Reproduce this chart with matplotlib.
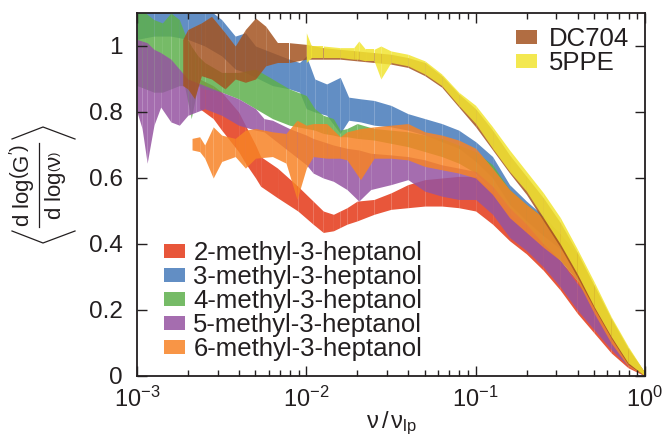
import numpy as np
import matplotlib
matplotlib.use("Agg")
import matplotlib.pyplot as plt
from matplotlib.patches import Patch
from matplotlib.lines import Line2D
from matplotlib.ticker import LogLocator, FixedLocator, FixedFormatter, NullLocator

plt.rcParams['font.family'] = ['Liberation Sans', 'DejaVu Sans']
plt.rcParams['mathtext.fontset'] = 'custom'
plt.rcParams['mathtext.rm'] = 'Liberation Sans'
plt.rcParams['mathtext.it'] = 'Liberation Sans'
plt.rcParams['mathtext.sf'] = 'Liberation Sans'
TXT = '#231f20'

# ---------------- data (log10 of nu/nu_lp, band lower / upper) ----------------
red_lx = [-2.63, -2.55, -2.5, -2.4, -2.36, -2.3, -2.27, -2.17, -2.05, -1.96,
          -1.9, -1.84, -1.8, -1.76, -1.7, -1.6, -1.5, -1.4, -1.3, -1.2,
          -1.1, -1.0, -0.9, -0.8, -0.7, -0.6, -0.5, -0.4, -0.3, -0.2, -0.1, 0.0]
red_hi = [0.90, 0.88, 0.86, 0.80, 0.76, 0.70, 0.665, 0.63, 0.575, 0.53,
          0.50, 0.49, 0.50, 0.51, 0.53, 0.535, 0.555, 0.58, 0.595, 0.60,
          0.605, 0.605, 0.56, 0.495, 0.45, 0.40, 0.35, 0.29, 0.23, 0.15, 0.075, 0.01]
red_lo = [0.81, 0.78, 0.745, 0.68, 0.645, 0.60, 0.575, 0.54, 0.50, 0.46,
          0.435, 0.44, 0.45, 0.46, 0.47, 0.49, 0.505, 0.51, 0.515, 0.515,
          0.51, 0.50, 0.46, 0.41, 0.37, 0.32, 0.26, 0.19, 0.13, 0.07, 0.025, 0.0]

blue_lx = [-3.0, -2.9, -2.8, -2.7, -2.6, -2.5, -2.42, -2.36, -2.3, -2.2,
           -2.1, -2.04, -2.0, -1.95, -1.88, -1.8, -1.75, -1.68, -1.6, -1.5,
           -1.4, -1.3, -1.2, -1.1, -1.0, -0.9, -0.8, -0.7, -0.6, -0.5,
           -0.4, -0.3, -0.2, -0.1, 0.0]
blue_hi = [1.15, 1.15, 1.12, 1.13, 1.12, 1.08, 1.03, 1.04, 1.0, 0.98,
           0.96, 0.95, 0.97, 0.90, 0.885, 0.905, 0.845, 0.84, 0.835, 0.82,
           0.795, 0.78, 0.765, 0.745, 0.71, 0.665, 0.58, 0.53, 0.485, 0.43,
           0.365, 0.265, 0.165, 0.075, 0.01]
blue_lo = [1.02, 1.03, 1.03, 1.02, 1.0, 0.97, 0.93, 0.92, 0.905, 0.88,
           0.87, 0.86, 0.81, 0.80, 0.79, 0.735, 0.775, 0.77, 0.76, 0.755,
           0.745, 0.73, 0.71, 0.69, 0.65, 0.60, 0.52, 0.47, 0.425, 0.385,
           0.325, 0.225, 0.125, 0.045, 0.0]

green_lx = [-3.0, -2.95, -2.9, -2.85, -2.8, -2.75, -2.72, -2.68, -2.64, -2.6,
            -2.5, -2.4, -2.3, -2.2, -2.1, -2.0, -1.95, -1.9, -1.84, -1.8,
            -1.76, -1.7, -1.6, -1.5, -1.4, -1.3, -1.2, -1.1, -1.0, -0.9,
            -0.8, -0.7, -0.6, -0.5, -0.4, -0.3, -0.2, -0.1, 0.0]
green_hi = [1.12, 1.10, 1.08, 1.07, 1.10, 1.08, 1.04, 1.0, 0.97, 0.95,
            0.92, 0.92, 0.93, 0.90, 0.87, 0.85, 0.81, 0.79, 0.78, 0.745,
            0.75, 0.765, 0.75, 0.745, 0.74, 0.73, 0.72, 0.70, 0.68, 0.64,
            0.565, 0.52, 0.48, 0.43, 0.37, 0.27, 0.17, 0.08, 0.01]
green_lo = [0.88, 0.87, 0.86, 0.86, 0.87, 0.88, 0.88, 0.78, 0.88, 0.87,
            0.86, 0.84, 0.81, 0.78, 0.76, 0.75, 0.745, 0.735, 0.73, 0.725,
            0.725, 0.72, 0.715, 0.705, 0.695, 0.68, 0.665, 0.645, 0.615, 0.56,
            0.49, 0.44, 0.395, 0.35, 0.29, 0.195, 0.105, 0.035, 0.0]

purple_lx = [-3.0, -2.97, -2.94, -2.9, -2.86, -2.8, -2.75, -2.7, -2.65, -2.6,
             -2.5, -2.4, -2.3, -2.25, -2.2, -2.1, -2.0, -1.96, -1.9, -1.84,
             -1.76, -1.69, -1.62, -1.5, -1.4, -1.3, -1.2, -1.1, -1.0, -0.9,
             -0.8, -0.7, -0.6, -0.5, -0.4, -0.3, -0.2, -0.1, 0.0]
purple_hi = [1.02, 1.015, 1.01, 0.99, 0.98, 0.96, 0.93, 0.90, 0.89, 0.88,
             0.86, 0.84, 0.81, 0.78, 0.775, 0.75, 0.73, 0.72, 0.71, 0.70,
             0.69, 0.685, 0.675, 0.67, 0.665, 0.655, 0.64, 0.63, 0.62, 0.575,
             0.51, 0.46, 0.40, 0.35, 0.28, 0.22, 0.14, 0.06, 0.01]
purple_lo = [0.80, 0.75, 0.645, 0.76, 0.815, 0.77, 0.76, 0.79, 0.80, 0.81,
             0.79, 0.76, 0.745, 0.74, 0.72, 0.68, 0.64, 0.615, 0.60, 0.59,
             0.565, 0.53, 0.565, 0.58, 0.595, 0.56, 0.545, 0.535, 0.535, 0.49,
             0.42, 0.38, 0.33, 0.27, 0.20, 0.14, 0.08, 0.03, 0.0]

orange_lx = [-2.675, -2.63, -2.6, -2.55, -2.5, -2.42, -2.36, -2.3, -2.2, -2.12,
             -2.055, -2.0, -1.96, -1.88, -1.8, -1.76, -1.68, -1.6, -1.5, -1.4,
             -1.3, -1.2, -1.1, -1.0, -0.9, -0.8, -0.7, -0.6, -0.5, -0.4,
             -0.3, -0.2, -0.1, 0.0]
orange_hi = [0.72, 0.725, 0.70, 0.755, 0.73, 0.72, 0.745, 0.75, 0.74, 0.735,
             0.775, 0.76, 0.765, 0.765, 0.725, 0.74, 0.75, 0.755, 0.76, 0.765,
             0.74, 0.73, 0.715, 0.69, 0.63, 0.565, 0.52, 0.48, 0.43, 0.37,
             0.27, 0.17, 0.08, 0.01]
orange_lo = [0.685, 0.68, 0.66, 0.60, 0.65, 0.665, 0.63, 0.66, 0.665, 0.645,
             0.535, 0.63, 0.665, 0.66, 0.66, 0.655, 0.595, 0.66, 0.66, 0.655,
             0.635, 0.625, 0.615, 0.60, 0.55, 0.48, 0.435, 0.39, 0.35, 0.29,
             0.19, 0.10, 0.03, 0.0]

brown_lx = [-2.73, -2.70, -2.66, -2.62, -2.56, -2.48, -2.42, -2.36, -2.30, -2.24,
            -2.17, -2.10, -2.0, -1.9, -1.8, -1.7, -1.6, -1.5, -1.4, -1.3,
            -1.2, -1.1, -1.0, -0.9, -0.8, -0.7, -0.6, -0.5, -0.4, -0.3,
            -0.2, -0.1, 0.0]
brown_hi = [1.02, 1.05, 1.06, 1.07, 1.09, 1.04, 1.0, 1.05, 1.085, 1.06,
            1.01, 1.01, 1.005, 0.995, 0.99, 0.985, 0.98, 0.975, 0.965, 0.95,
            0.91, 0.855, 0.81, 0.745, 0.67, 0.605, 0.54, 0.465, 0.375, 0.275,
            0.175, 0.085, 0.01]
brown_lo = [0.88, 0.87, 0.84, 0.91, 0.90, 0.87, 0.90, 0.89, 0.90, 0.94,
            0.95, 0.95, 0.96, 0.96, 0.96, 0.955, 0.95, 0.945, 0.935, 0.91,
            0.875, 0.815, 0.755, 0.685, 0.615, 0.55, 0.47, 0.39, 0.30, 0.205,
            0.115, 0.035, 0.0]

yellow_lx = [-2.0, -1.97, -1.9, -1.8, -1.72, -1.69, -1.65, -1.6, -1.56, -1.5,
             -1.4, -1.3, -1.2, -1.1, -1.0, -0.9, -0.8, -0.7, -0.6, -0.5,
             -0.4, -0.3, -0.2, -0.1, 0.0]
yellow_hi = [1.04, 1.0, 1.0, 0.995, 0.995, 1.015, 0.99, 0.99, 1.0, 0.985,
             0.975, 0.955, 0.915, 0.86, 0.82, 0.755, 0.685, 0.62, 0.555, 0.48,
             0.385, 0.285, 0.18, 0.09, 0.01]
yellow_lo = [0.95, 0.965, 0.965, 0.965, 0.96, 0.96, 0.955, 0.955, 0.90, 0.95,
             0.94, 0.915, 0.88, 0.82, 0.765, 0.69, 0.62, 0.56, 0.48, 0.40,
             0.31, 0.21, 0.12, 0.04, 0.0]

alcohol_labels = ['2-methyl-3-heptanol', '3-methyl-3-heptanol', '4-methyl-3-heptanol',
                  '5-methyl-3-heptanol', '6-methyl-3-heptanol']
ref_labels = ['DC704', '5PPE']
y_ticks = [0, 0.2, 0.4, 0.6, 0.8, 1.0]
y_ticklabels = ['0', '0.2', '0.4', '0.6', '0.8', '1']

# ---------------- styling ----------------
ALPHA = 0.85
colors = {
    'red': '#e43817', 'blue': '#467aba', 'green': '#5eb04c', 'purple': '#9554a1',
    'orange': '#f78325', 'brown': '#a45421', 'yellow': '#f1e531',
}

W, H = 662, 437
fig = plt.figure(figsize=(W / 100, H / 100), dpi=100)
ax = fig.add_axes([137 / W, 61 / H, 508 / W, 363 / H])

series = [
    ('red', red_lx, red_lo, red_hi),
    ('blue', blue_lx, blue_lo, blue_hi),
    ('green', green_lx, green_lo, green_hi),
    ('purple', purple_lx, purple_lo, purple_hi),
    ('orange', orange_lx, orange_lo, orange_hi),
    ('brown', brown_lx, brown_lo, brown_hi),
    ('yellow', yellow_lx, yellow_lo, yellow_hi),
]
for name, lx, lo, hi in series:
    x = 10.0 ** np.asarray(lx)
    lo = np.asarray(lo)
    hi = np.asarray(hi)
    # draw band segment by segment (gives the faint seams of the original)
    for i in range(len(x) - 1):
        ax.fill_between(x[i:i + 2], lo[i:i + 2], hi[i:i + 2],
                        color=colors[name], alpha=ALPHA, linewidth=0)

ax.set_xscale('log')
ax.set_xlim(1e-3, 1.0)
ax.set_ylim(0, 1.1)
ax.yaxis.set_major_locator(FixedLocator(y_ticks))
ax.yaxis.set_major_formatter(FixedFormatter(y_ticklabels))
ax.yaxis.set_minor_locator(NullLocator())
ax.xaxis.set_major_locator(LogLocator(base=10, numticks=10))
ax.xaxis.set_minor_locator(LogLocator(base=10, subs=np.arange(2, 10), numticks=20))

for s in ax.spines.values():
    s.set_linewidth(1.3)
    s.set_color(TXT)
ax.tick_params(which='both', direction='in', top=True, right=True, width=1.0,
               color=TXT, labelcolor=TXT)
ax.tick_params(which='major', length=7.5)
ax.tick_params(which='minor', length=4)
ax.tick_params(axis='y', which='major', pad=10, labelsize=17.5)
ax.tick_params(axis='x', which='major', pad=8, labelsize=17)

ax.set_xlabel(r'$\nu\,/\,\nu_{\mathrm{lp}}$', fontsize=17, labelpad=-2, color=TXT)

# y label: < d log(G') / d log(nu) > built from pieces
def fx(px):
    return px / W

def fy(py):
    return 1 - py / H

yc = 185
fig.text(fx(23), fy(yc), r'd log$\left(\mathrm{G}^{\prime}\right)$', rotation=90,
         ha='center', va='center', fontsize=16, color=TXT)
fig.text(fx(55), fy(yc), r'd log$\left(\nu\right)$', rotation=90,
         ha='center', va='center', fontsize=16, color=TXT)
fig.add_artist(Line2D([fx(39), fx(39)], [fy(yc - 42), fy(yc + 42)],
                      transform=fig.transFigure, lw=0.9, color=TXT))
fig.add_artist(Line2D([fx(12), fx(43), fx(75)], [fy(139), fy(127), fy(139)],
                      transform=fig.transFigure, lw=0.9, color=TXT))
fig.add_artist(Line2D([fx(12), fx(43), fx(75)], [fy(231), fy(243), fy(231)],
                      transform=fig.transFigure, lw=0.9, color=TXT))

h1 = [Patch(facecolor=colors[c], alpha=ALPHA, linewidth=0)
      for c in ['red', 'blue', 'green', 'purple', 'orange']]
leg1 = ax.legend(h1, alcohol_labels, loc='upper left', bbox_to_anchor=(fx(164), fy(241)),
                 bbox_transform=fig.transFigure, frameon=False, fontsize=18.5,
                 handlelength=0.82, handleheight=0.5, handletextpad=0.32,
                 labelspacing=0.0, borderpad=0.0, borderaxespad=0, labelcolor=TXT)
ax.add_artist(leg1)
h2 = [Patch(facecolor=colors[c], alpha=ALPHA, linewidth=0) for c in ['brown', 'yellow']]
ax.legend(h2, ref_labels, loc='upper left', bbox_to_anchor=(fx(516), fy(27)),
          bbox_transform=fig.transFigure, frameon=False, fontsize=18.5,
          handlelength=0.82, handleheight=0.5, handletextpad=0.47,
          labelspacing=0.0, borderpad=0.0, borderaxespad=0, labelcolor=TXT)

fig.savefig('out.png', dpi=100)
